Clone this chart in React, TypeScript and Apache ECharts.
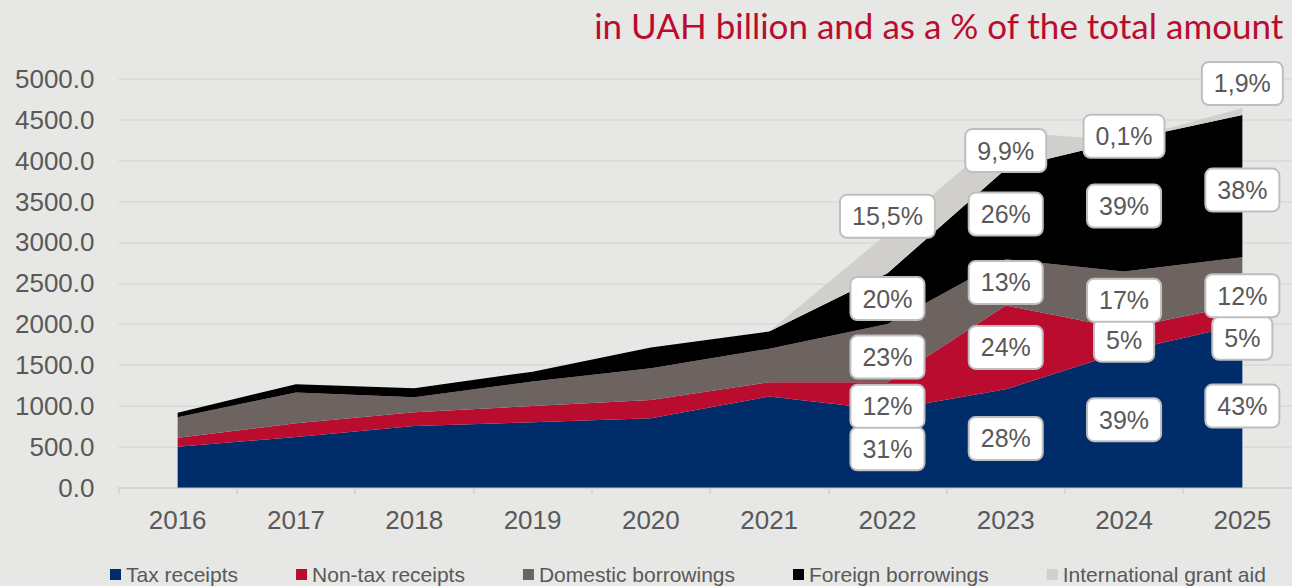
import React, { useEffect, useRef } from "react";
import * as echarts from "echarts";

const years = ["2016", "2017", "2018", "2019", "2020", "2021", "2022", "2023", "2024", "2025"];
const taxReceipts = [502, 620, 755, 800, 849, 1115, 950, 1204, 1665, 1997];
const nonTaxReceipts = [110, 168, 168, 200, 224, 175, 340, 1024, 279, 247];
const domesticBorrowings = [250, 377, 183, 300, 388, 410, 714, 567, 700, 576];
const foreignBorrowings = [56, 102, 110, 120, 253, 210, 620, 1105, 1603, 1741];
const grantAid = [0, 0, 0, 0, 0, 0, 486, 450, 5, 83];

const pctYears = ["2022", "2023", "2024", "2025"];
const taxPct = ["31%", "28%", "39%", "43%"];
const nonTaxPct = ["12%", "24%", "5%", "5%"];
const domesticPct = ["23%", "13%", "17%", "12%"];
const foreignPct = ["20%", "26%", "39%", "38%"];
const grantPct = ["15,5%", "9,9%", "0,1%", "1,9%"];

const yTicks = [0, 500, 1000, 1500, 2000, 2500, 3000, 3500, 4000, 4500, 5000];

const seriesNames = [
  "Tax receipts",
  "Non-tax receipts",
  "Domestic borrowings",
  "Foreign borrowings",
  "International grant aid",
];
const colors = ["#002D6A", "#BA0C2F", "#6D6462", "#000000", "#D1CFCB"];

// pixel nudges for overlapping labels: [seriesIndex][yearIndexInPct]
const labelNudge = [
  [0, 0, 0, 0],
  [10, 0, 0, 24],
  [4, 0, 0, 15],
  [0, 0, 0, 4],
  [-37, 0, -4, -28],
];

export default function App() {
  const ref = useRef<HTMLDivElement>(null);

  useEffect(() => {
    if (!ref.current) return;
    const chart = echarts.init(ref.current, null, { renderer: "svg" });
    const values = [taxReceipts, nonTaxReceipts, domesticBorrowings, foreignBorrowings, grantAid];
    const pcts = [taxPct, nonTaxPct, domesticPct, foreignPct, grantPct];

    const areaSeries = values.map((arr, si) => ({
      name: seriesNames[si],
      type: "line",
      stack: "total",
      data: arr,
      symbol: "none",
      showSymbol: false,
      lineStyle: { width: 0 },
      itemStyle: { color: colors[si] },
      areaStyle: { color: colors[si], opacity: 1 },
      z: 2,
    }));

    const labelData: any[] = [];
    pctYears.forEach((yr, k) => {
      const yi = years.indexOf(yr);
      let base = 0;
      values.forEach((arr, si) => {
        const mid = base + arr[yi] / 2;
        base += arr[yi];
        labelData.push({
          value: [yi, mid],
          label: {
            formatter: pcts[si][k],
            offset: [0, labelNudge[si][k]],
          },
        });
      });
    });

    chart.setOption({
      animation: false,
      backgroundColor: "#E7E7E5",
      textStyle: { fontFamily: "Liberation Sans, Arial, sans-serif" },
      title: {
        text: "in UAH billion and as a % of the total amount",
        right: 8,
        top: 7,
        padding: 0,
        textStyle: {
          fontFamily: "Lato",
          fontWeight: "normal",
          fontSize: 35,
          color: "#BA0C2F",
        },
      },
      legend: {
        data: seriesNames,
        left: 105,
        top: 559,
        itemGap: 58,
        itemWidth: 11,
        itemHeight: 11,
        icon: "rect",
        textStyle: { fontSize: 21, color: "#595959", fontFamily: "Liberation Sans, Arial, sans-serif" },
      },
      grid: {
        left: 118.5,
        width: 1183,
        top: 79,
        bottom: 98.3,
        containLabel: false,
        outerBoundsMode: "none",
      },
      xAxis: {
        type: "category",
        data: years,
        boundaryGap: true,
        axisLine: { lineStyle: { color: "#D0D0CE", width: 1.5 } },
        axisTick: { show: true, length: 6, lineStyle: { color: "#D0D0CE", width: 1.5 } },
        axisLabel: { fontSize: 26, color: "#595959", margin: 19 },
        splitLine: { show: false },
      },
      yAxis: {
        type: "value",
        min: yTicks[0],
        max: yTicks[yTicks.length - 1],
        interval: yTicks[1] - yTicks[0],
        axisLine: { show: false },
        axisTick: { show: false },
        axisLabel: {
          fontSize: 26,
          color: "#595959",
          margin: 24,
          formatter: (v: number) => v.toFixed(1),
        },
        splitLine: { lineStyle: { color: "#D8D8D6", width: 1.5 } },
      },
      series: [
        ...areaSeries,
        {
          name: "labels",
          type: "scatter",
          data: labelData,
          symbolSize: 0,
          silent: true,
          z: 10,
          itemStyle: { opacity: 1, color: "#FFFFFF" },
          emphasis: { disabled: true },
          label: {
            show: true,
            position: "inside",
            opacity: 1,
            fontSize: 25,
            lineHeight: 29,
            color: "#595959",
            backgroundColor: "#FFFFFF",
            borderColor: "#BFBFBF",
            borderWidth: 2,
            borderRadius: 6,
            padding: [6, 11],
          },
        },
      ],
    });
    return () => chart.dispose();
  }, []);

  return (
    <div
      ref={ref}
      style={{ position: "fixed", left: 0, top: 0, width: 1292, height: 586 }}
    />
  );
}
